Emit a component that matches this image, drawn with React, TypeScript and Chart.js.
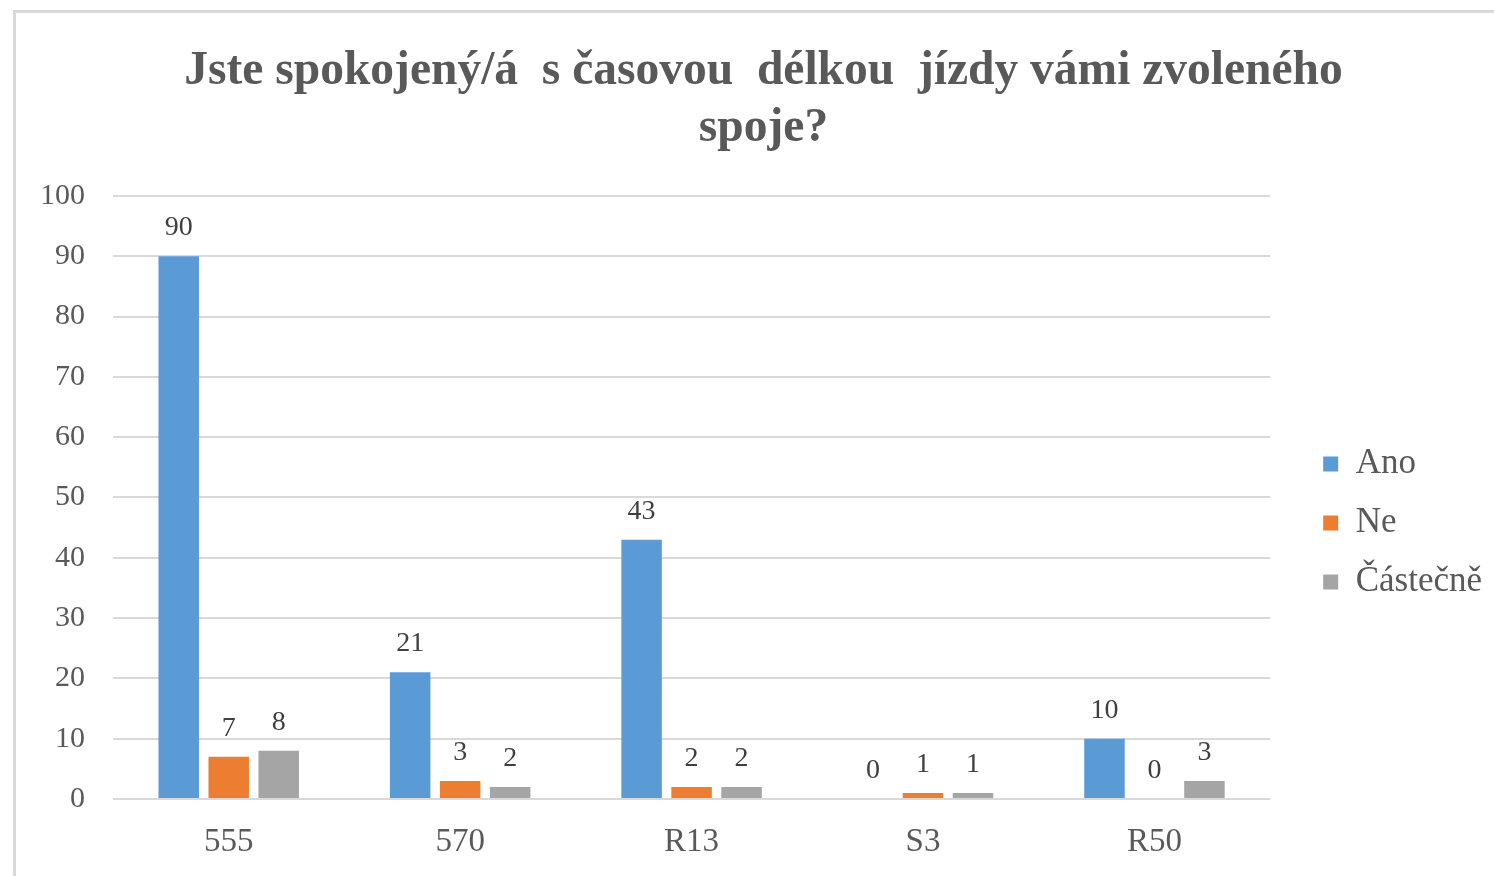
import React, { useEffect, useRef } from "react";
import { Chart, registerables } from "chart.js";

Chart.register(...registerables);

const categories = ["555", "570", "R13", "S3", "R50"];
const seriesNames = ["Ano", "Ne", "Částečně"];
const anoValues = [90, 21, 43, 0, 10];
const neValues = [7, 3, 2, 1, 0];
const castecneValues = [8, 2, 2, 1, 3];
const seriesColors = ["#5B9BD5", "#ED7D31", "#A5A5A5"];
const yTicks = [0, 10, 20, 30, 40, 50, 60, 70, 80, 90, 100];
const titleLines = ["Jste spokojený/á  s časovou  délkou  jízdy vámi zvoleného", "spoje?"];

const FONT = "'Liberation Serif', 'Times New Roman', serif";

const dataLabelPlugin = {
  id: "dataLabels",
  afterDatasetsDraw(chart: any) {
    const ctx = chart.ctx;
    ctx.save();
    ctx.font = `28px ${FONT}`;
    ctx.fillStyle = "#404040";
    ctx.textAlign = "center";
    ctx.textBaseline = "alphabetic";
    chart.data.datasets.forEach((ds: any, i: number) => {
      const meta = chart.getDatasetMeta(i);
      meta.data.forEach((el: any, j: number) => {
        ctx.fillText(String(ds.data[j]), el.x, el.y - 21);
      });
    });
    ctx.restore();
  },
};

const shiftPlugin = {
  id: "shiftBoxes",
  afterLayout(chart: any) {
    const lg = chart.legend;
    if (lg) {
      lg.left += 29;
      lg.right += 29;
      lg.top += 85;
      lg.bottom += 85;
    }
    const tb = chart.titleBlock;
    if (tb) {
      tb.left += 12;
      tb.right += 12;
    }
  },
};

export default function App() {
  const ref = useRef<HTMLCanvasElement | null>(null);
  useEffect(() => {
    if (!ref.current) return;
    const values = [anoValues, neValues, castecneValues];
    const chart = new Chart(ref.current, {
      type: "bar",
      data: {
        labels: categories,
        datasets: seriesNames.map((name, i) => ({
          label: name,
          data: values[i],
          backgroundColor: seriesColors[i],
          borderWidth: 0,
          barPercentage: 0.81,
          categoryPercentage: 0.648,
        })),
      },
      options: {
        animation: false,
        responsive: true,
        maintainAspectRatio: false,
        layout: { padding: { left: 24, right: 49, top: 0, bottom: 13 } },
        plugins: {
          title: {
            display: true,
            text: titleLines,
            color: "#595959",
            font: { family: FONT, size: 47.5, weight: "bold", lineHeight: 1.21 },
            padding: { top: 30, bottom: 38 },
          },
          legend: {
            display: true,
            position: "right",
            labels: {
              color: "#595959",
              font: { family: FONT, size: 35 },
              boxWidth: 15,
              boxHeight: 15,
              padding: 24,
            },
          },
          tooltip: { enabled: false },
        },
        scales: {
          x: {
            grid: { display: false, drawTicks: false },
            border: { display: false },
            ticks: {
              color: "#595959",
              font: { family: FONT, size: 33 },
              padding: 24,
            },
            afterFit: (axis: any) => {
              axis.height = 64;
            },
          },
          y: {
            min: 0,
            max: 100,
            afterBuildTicks: (axis: any) => {
              axis.ticks = yTicks.map((v) => ({ value: v }));
            },
            grid: { color: "#D9D9D9", lineWidth: 2, drawTicks: false },
            border: { display: false },
            ticks: {
              color: "#595959",
              font: { family: FONT, size: 30 },
              padding: 28,
            },
            afterFit: (axis: any) => {
              axis.width = 73;
            },
          },
        },
      },
      plugins: [dataLabelPlugin, shiftPlugin],
    });
    return () => chart.destroy();
  }, []);

  return (
    <div
      style={{
        position: "fixed",
        left: 13,
        top: 10,
        width: 1499,
        height: 866,
        boxSizing: "border-box",
        borderLeft: "3px solid #D9D9D9",
        borderTop: "3px solid #D9D9D9",
        background: "#fff",
      }}
    >
      <div style={{ position: "relative", width: 1496, height: 863 }}>
        <canvas ref={ref} />
      </div>
    </div>
  );
}
